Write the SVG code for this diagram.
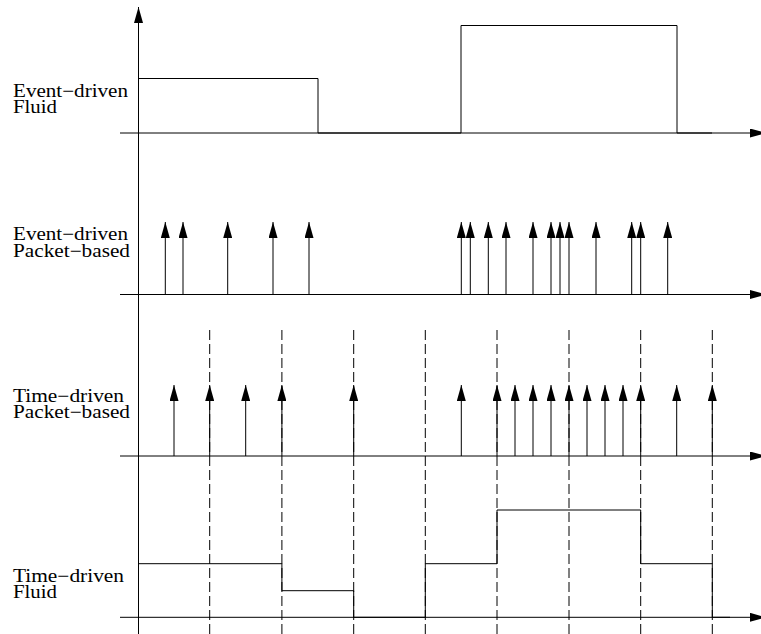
<svg xmlns="http://www.w3.org/2000/svg" width="761" height="634" viewBox="0 0 761 634">
<style>
.ax{stroke:#333;stroke-width:1;fill:none}
.sig{stroke:#000;stroke-width:1;fill:none}
.pk{stroke:#000;stroke-width:1;fill:none;marker-end:url(#ah)}
.dash{stroke:#000;stroke-width:1;stroke-dasharray:10 4;fill:none}
text{font-family:"Liberation Serif","Times New Roman",serif;font-size:18px;fill:#000}
</style>
<defs>
<marker id="ah" viewBox="0 0 16 9" refX="16" refY="4.5" markerWidth="16" markerHeight="9" markerUnits="userSpaceOnUse" orient="auto">
<path d="M0,0 L16,4.5 L0,9 z" fill="#000"/>
</marker>
</defs>
<g id="connectors">
<line class="pk" x1="138.5" y1="634" x2="138.5" y2="7"/>
<g id="grid">
<line class="dash" x1="209.7" y1="330" x2="209.7" y2="634"/>
<line class="dash" x1="281.9" y1="330" x2="281.9" y2="634"/>
<line class="dash" x1="353.7" y1="330" x2="353.7" y2="634"/>
<line class="dash" x1="425.3" y1="330" x2="425.3" y2="634"/>
<line class="dash" x1="497" y1="330" x2="497" y2="634"/>
<line class="dash" x1="569" y1="330" x2="569" y2="634"/>
<line class="dash" x1="640.7" y1="330" x2="640.7" y2="634"/>
<line class="dash" x1="712.3" y1="330" x2="712.3" y2="634"/>
</g>
</g>
<g id="event-fluid">
<line class="pk" x1="120" y1="133" x2="766" y2="133"/>
<path class="sig" d="M138.5,133 V78.5 H318 V133 H461 V25.5 H677 V133 H712"/>
<text x="13" y="97" textLength="115" lengthAdjust="spacingAndGlyphs">Event−driven</text>
<text x="13" y="113.3" textLength="44" lengthAdjust="spacingAndGlyphs">Fluid</text>
</g>
<g id="event-packet">
<line class="pk" x1="120" y1="294.5" x2="766" y2="294.5"/>
<line class="pk" x1="165.3" y1="294.5" x2="165.3" y2="222"/>
<line class="pk" x1="183" y1="294.5" x2="183" y2="222"/>
<line class="pk" x1="227.7" y1="294.5" x2="227.7" y2="222"/>
<line class="pk" x1="273" y1="294.5" x2="273" y2="222"/>
<line class="pk" x1="309" y1="294.5" x2="309" y2="222"/>
<line class="pk" x1="461.3" y1="294.5" x2="461.3" y2="222"/>
<line class="pk" x1="470.3" y1="294.5" x2="470.3" y2="222"/>
<line class="pk" x1="488.3" y1="294.5" x2="488.3" y2="222"/>
<line class="pk" x1="506" y1="294.5" x2="506" y2="222"/>
<line class="pk" x1="533" y1="294.5" x2="533" y2="222"/>
<line class="pk" x1="551" y1="294.5" x2="551" y2="222"/>
<line class="pk" x1="560" y1="294.5" x2="560" y2="222"/>
<line class="pk" x1="569" y1="294.5" x2="569" y2="222"/>
<line class="pk" x1="596" y1="294.5" x2="596" y2="222"/>
<line class="pk" x1="631.7" y1="294.5" x2="631.7" y2="222"/>
<line class="pk" x1="640.7" y1="294.5" x2="640.7" y2="222"/>
<line class="pk" x1="667.7" y1="294.5" x2="667.7" y2="222"/>
<text x="13" y="240" textLength="115" lengthAdjust="spacingAndGlyphs">Event−driven</text>
<text x="13" y="256.5" textLength="117" lengthAdjust="spacingAndGlyphs">Packet−based</text>
</g>
<g id="time-packet">
<line class="pk" x1="120" y1="456" x2="766" y2="456"/>
<line class="pk" x1="174" y1="456" x2="174" y2="385"/>
<line class="pk" x1="209.7" y1="456" x2="209.7" y2="385"/>
<line class="pk" x1="245.7" y1="456" x2="245.7" y2="385"/>
<line class="pk" x1="281.9" y1="456" x2="281.9" y2="385"/>
<line class="pk" x1="353.7" y1="456" x2="353.7" y2="385"/>
<line class="pk" x1="461.3" y1="456" x2="461.3" y2="385"/>
<line class="pk" x1="497" y1="456" x2="497" y2="385"/>
<line class="pk" x1="515" y1="456" x2="515" y2="385"/>
<line class="pk" x1="533" y1="456" x2="533" y2="385"/>
<line class="pk" x1="551" y1="456" x2="551" y2="385"/>
<line class="pk" x1="569" y1="456" x2="569" y2="385"/>
<line class="pk" x1="587" y1="456" x2="587" y2="385"/>
<line class="pk" x1="605" y1="456" x2="605" y2="385"/>
<line class="pk" x1="623" y1="456" x2="623" y2="385"/>
<line class="pk" x1="640.7" y1="456" x2="640.7" y2="385"/>
<line class="pk" x1="676.7" y1="456" x2="676.7" y2="385"/>
<line class="pk" x1="712.3" y1="456" x2="712.3" y2="385"/>
<text x="13" y="401.7" textLength="111" lengthAdjust="spacingAndGlyphs">Time−driven</text>
<text x="13" y="418" textLength="117" lengthAdjust="spacingAndGlyphs">Packet−based</text>
</g>
<g id="time-fluid">
<line class="pk" x1="120" y1="617.3" x2="766" y2="617.3"/>
<path class="sig" d="M138.5,563.7 H281.9 V590.7 H353.7 V617.3 H425.3 V563.7 H497 V510 H640.7 V563.7 H712.3 V617.3 H730"/>
<text x="13" y="581.7" textLength="111" lengthAdjust="spacingAndGlyphs">Time−driven</text>
<text x="13" y="598" textLength="44" lengthAdjust="spacingAndGlyphs">Fluid</text>
</g>
</svg>
